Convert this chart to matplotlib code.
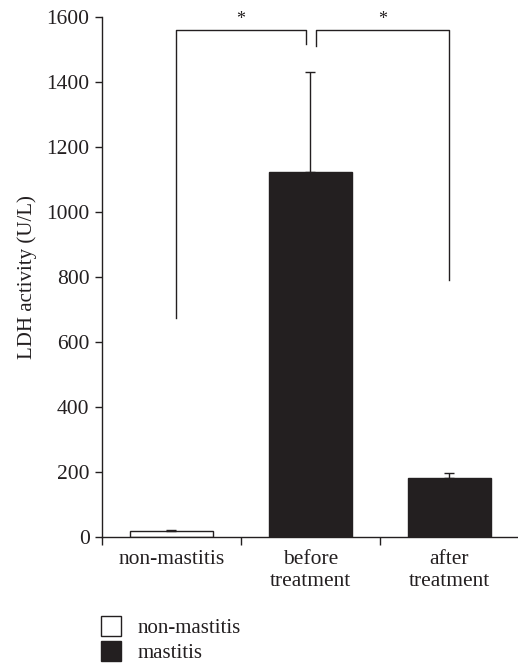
import matplotlib.pyplot as plt
from matplotlib.patches import Patch
import numpy as np

plt.rcParams['font.family'] = ['Liberation Serif', 'DejaVu Serif']

# data
groups = ['non-mastitis', 'before\ntreatment', 'after\ntreatment']
means = [18, 1125, 181]
errors = [3, 307, 18]
bar_colors = ['white', '#231f20', '#231f20']
y_ticks = [0, 200, 400, 600, 800, 1000, 1200, 1400, 1600]

# significance brackets: (x_left, x_right, left_leg_bottom, right_leg_bottom, top)
brackets = [(0.03, 0.97, 674, 1518, 1560),
            (1.04, 2.0, 1513, 792, 1560)]
star_y = 1592

ink = '#231f20'

fig = plt.figure(figsize=(5.18, 6.69), dpi=100)
ax = fig.add_axes([102 / 518, 131.7 / 669, 417 / 518, 520 / 669])

x = np.arange(len(groups))
ax.bar(x, means, width=0.6, color=bar_colors, edgecolor=ink, linewidth=1.0)
zeros = [0] * len(errors)
ax.errorbar(x, means, yerr=[zeros, errors], fmt='none', ecolor=ink,
            elinewidth=1.0, capsize=3.5, capthick=1.0)

for xl, xr, bl, br, top in brackets:
    ax.plot([xl, xl, xr, xr], [bl, top, top, br], color=ink, lw=1.0,
            clip_on=False)
    ax.text((xl + xr) / 2, star_y, '*', ha='center', va='center',
            fontsize=13, color=ink, clip_on=False)

ax.set_xlim(-0.5, 2.5)
ax.set_ylim(0, 1600)
ax.set_yticks(y_ticks)
ax.set_yticklabels([str(t) for t in y_ticks], fontsize=15.5, color=ink)

# category ticks sit at the boundaries, labels sit under the bars
ax.set_xticks([-0.5, 0.5, 1.5, 2.5])
ax.set_xticklabels([])
ax.set_xticks(x, minor=True)
ax.set_xticklabels(groups, minor=True, fontsize=15.5, color=ink, linespacing=1.25)
ax.tick_params(axis='x', which='minor', length=0, pad=9)
ax.tick_params(axis='x', which='major', length=6, width=1.0, color=ink)
ax.tick_params(axis='y', length=5, width=1.0, color=ink, pad=4)

ax.set_ylabel('LDH activity (U/L)', fontsize=15, color=ink, labelpad=7)

for side in ['top', 'right']:
    ax.spines[side].set_visible(False)
for side in ['left', 'bottom']:
    ax.spines[side].set_linewidth(1.0)
    ax.spines[side].set_color(ink)

handles = [Patch(facecolor='white', edgecolor=ink, linewidth=1.0, label='non-mastitis'),
           Patch(facecolor=ink, edgecolor=ink, linewidth=1.0, label='mastitis')]
fig.legend(handles=handles, loc='upper left', bbox_to_anchor=(101 / 518, 53 / 669),
           frameon=False, fontsize=15, handlelength=0.95, handleheight=1.1,
           handletextpad=0.8, labelspacing=0.15, borderpad=0, borderaxespad=0,
           labelcolor=ink)

fig.savefig('out.png', dpi=100)
